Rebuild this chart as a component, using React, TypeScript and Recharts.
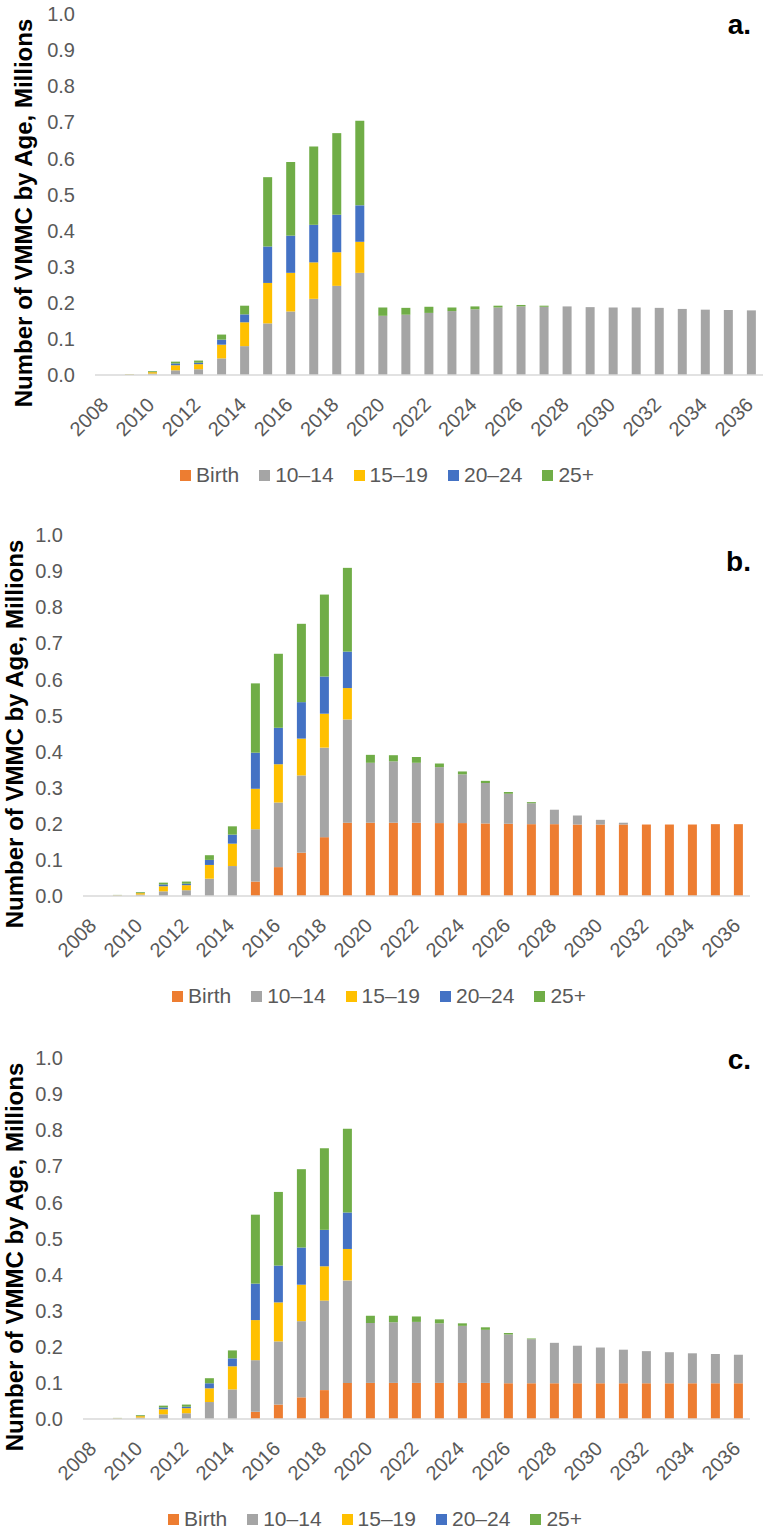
import { Bar, BarChart, Legend, XAxis, YAxis } from "recharts";

const YEARS = [
  "2008", "2009", "2010", "2011", "2012", "2013", "2014", "2015", "2016", "2017",
  "2018", "2019", "2020", "2021", "2022", "2023", "2024", "2025", "2026", "2027",
  "2028", "2029", "2030", "2031", "2032", "2033", "2034", "2035", "2036",
];

const Y_TICKS = [0, 0.1, 0.2, 0.3, 0.4, 0.5, 0.6, 0.7, 0.8, 0.9, 1.0];

// panel a: no birth circumcision
const A_BIRTH = [0, 0, 0, 0, 0, 0, 0, 0, 0, 0, 0, 0, 0, 0, 0, 0, 0, 0, 0, 0, 0, 0, 0, 0, 0, 0, 0, 0, 0];
const A_1014 = [0, 0.001, 0.004, 0.013, 0.016, 0.046, 0.08, 0.143, 0.176, 0.211, 0.247, 0.283, 0.164, 0.167, 0.172, 0.177, 0.182, 0.187, 0.19, 0.189, 0.19, 0.188, 0.187, 0.187, 0.186, 0.183, 0.181, 0.18, 0.179];
const A_1519 = [0, 0.001, 0.004, 0.014, 0.014, 0.038, 0.066, 0.112, 0.107, 0.101, 0.093, 0.086, 0, 0, 0, 0, 0, 0, 0, 0, 0, 0, 0, 0, 0, 0, 0, 0, 0];
const A_2024 = [0, 0, 0.001, 0.005, 0.004, 0.014, 0.022, 0.101, 0.103, 0.104, 0.104, 0.101, 0, 0, 0, 0, 0, 0, 0, 0, 0, 0, 0, 0, 0, 0, 0, 0, 0];
const A_25P = [0, 0.001, 0.002, 0.005, 0.006, 0.014, 0.024, 0.192, 0.204, 0.217, 0.226, 0.234, 0.023, 0.019, 0.017, 0.01, 0.008, 0.005, 0.004, 0.003, 0, 0, 0, 0, 0, 0, 0, 0, 0];

// panel b
const B_BIRTH = [0, 0, 0, 0, 0, 0, 0, 0.04, 0.08, 0.12, 0.163, 0.203, 0.203, 0.203, 0.203, 0.202, 0.202, 0.201, 0.2, 0.199, 0.199, 0.198, 0.198, 0.198, 0.198, 0.198, 0.198, 0.199, 0.199];
const B_1014 = [0, 0.001, 0.004, 0.013, 0.016, 0.048, 0.083, 0.145, 0.179, 0.214, 0.248, 0.286, 0.166, 0.17, 0.166, 0.155, 0.135, 0.112, 0.083, 0.058, 0.04, 0.025, 0.013, 0.005, 0, 0, 0, 0, 0];
const B_1519 = [0, 0.001, 0.004, 0.014, 0.014, 0.038, 0.062, 0.112, 0.106, 0.102, 0.094, 0.087, 0, 0, 0, 0, 0, 0, 0, 0, 0, 0, 0, 0, 0, 0, 0, 0, 0];
const B_2024 = [0, 0, 0.001, 0.005, 0.004, 0.014, 0.025, 0.1, 0.101, 0.101, 0.103, 0.101, 0, 0, 0, 0, 0, 0, 0, 0, 0, 0, 0, 0, 0, 0, 0, 0, 0];
const B_25P = [0, 0.001, 0.002, 0.005, 0.006, 0.013, 0.023, 0.192, 0.205, 0.217, 0.227, 0.232, 0.022, 0.017, 0.016, 0.01, 0.008, 0.006, 0.005, 0.003, 0, 0, 0, 0, 0, 0, 0, 0, 0];

// panel c
const C_BIRTH = [0, 0, 0, 0, 0, 0, 0, 0.02, 0.04, 0.06, 0.08, 0.1, 0.1, 0.1, 0.1, 0.1, 0.1, 0.1, 0.099, 0.099, 0.099, 0.099, 0.099, 0.099, 0.099, 0.099, 0.099, 0.099, 0.099];
const C_1014 = [0, 0.001, 0.004, 0.013, 0.016, 0.047, 0.082, 0.143, 0.175, 0.211, 0.248, 0.284, 0.166, 0.168, 0.169, 0.165, 0.158, 0.147, 0.135, 0.122, 0.112, 0.104, 0.099, 0.093, 0.089, 0.086, 0.083, 0.081, 0.079];
const C_1519 = [0, 0.001, 0.004, 0.014, 0.014, 0.038, 0.064, 0.111, 0.108, 0.101, 0.095, 0.087, 0, 0, 0, 0, 0, 0, 0, 0, 0, 0, 0, 0, 0, 0, 0, 0, 0];
const C_2024 = [0, 0, 0.001, 0.005, 0.004, 0.014, 0.022, 0.101, 0.102, 0.103, 0.101, 0.101, 0, 0, 0, 0, 0, 0, 0, 0, 0, 0, 0, 0, 0, 0, 0, 0, 0];
const C_25P = [0, 0.001, 0.002, 0.005, 0.006, 0.014, 0.022, 0.191, 0.204, 0.217, 0.226, 0.232, 0.02, 0.018, 0.015, 0.011, 0.007, 0.007, 0.004, 0.002, 0, 0, 0, 0, 0, 0, 0, 0, 0];

const SERIES = [
  { key: "birth", name: "Birth", color: "#ED7D31" },
  { key: "a1014", name: "10–14", color: "#A5A5A5" },
  { key: "a1519", name: "15–19", color: "#FFC000" },
  { key: "a2024", name: "20–24", color: "#4472C4" },
  { key: "a25", name: "25+", color: "#70AD47" },
];

const TEXT = "#595959";
const FONT = "'Liberation Sans', Arial, sans-serif";

function makeRows(birth: number[], g: number[], y: number[], b: number[], o: number[]) {
  return YEARS.map((year, i) => ({
    year,
    birth: birth[i],
    a1014: g[i],
    a1519: y[i],
    a2024: b[i],
    a25: o[i],
  }));
}

function YearTick({ x, y, payload }: any) {
  const tx = x + 3;
  const ty = y + 31;
  return (
    <text
      x={tx}
      y={ty}
      transform={`rotate(-45 ${tx} ${ty})`}
      textAnchor="end"
      fill={TEXT}
      fontSize={20}
    >
      {payload.value}
    </text>
  );
}

// keep legend in series order (recharts sorts by name otherwise)
function LegendRow({ payload }: any) {
  const items = [...(payload ?? [])].sort(
    (p: any, q: any) =>
      SERIES.findIndex((s) => s.name === p.value) - SERIES.findIndex((s) => s.name === q.value)
  );
  return (
    <div
      style={{
        display: "flex",
        justifyContent: "center",
        alignItems: "center",
        height: 28,
        fontSize: 21,
        color: TEXT,
        fontFamily: FONT,
      }}
    >
      {items.map((p: any, i: number) => (
        <span
          key={p.value}
          style={{
            display: "flex",
            alignItems: "center",
            marginRight: i < items.length - 1 ? 20 : 0,
          }}
        >
          <span
            style={{
              width: 11,
              height: 11,
              background: p.color,
              marginRight: 5,
              display: "inline-block",
            }}
          />
          {p.value}
        </span>
      ))}
    </div>
  );
}

type PanelProps = {
  rows: ReturnType<typeof makeRows>;
  top: number;
  height: number;
  plotLeft: number;
  plotRight: number;
  titleX: number;
  tag: string;
  tagTop: number;
  legendShift: number;
};

function Panel({ rows, top, height, plotLeft, plotRight, titleX, tag, tagTop, legendShift }: PanelProps) {
  const axisH = 40;
  return (
    <div style={{ position: "absolute", left: 0, top, width: 766, height }}>
      <BarChart
        width={766}
        height={height}
        data={rows}
        margin={{ top: 14, right: 766 - plotRight, left: 0, bottom: height - 375 - axisH }}
        barCategoryGap="30%"
      >
        <XAxis
          dataKey="year"
          height={axisH}
          interval={1}
          tickLine={false}
          tickSize={0}
          tickMargin={0}
          axisLine={{ stroke: "#D9D9D9", strokeWidth: 1.5 }}
          tick={<YearTick />}
        />
        <YAxis
          type="number"
          domain={[0, 1]}
          ticks={Y_TICKS}
          width={plotLeft}
          axisLine={false}
          tickLine={false}
          tickSize={0}
          tickMargin={20}
          tick={{ fill: TEXT, fontSize: 20 }}
          tickFormatter={(v: number) => v.toFixed(1)}
          label={{
            content: () => (
              <text
                x={titleX}
                y={213}
                transform={`rotate(-90 ${titleX} 213)`}
                textAnchor="middle"
                fontSize={24}
                fontWeight="bold"
                fill="#000"
              >
                Number of VMMC by Age, Millions
              </text>
            ),
          }}
        />
        <Legend
          verticalAlign="middle"
          align="center"
          wrapperStyle={{ top: 461, left: legendShift, width: 766 }}
          content={<LegendRow />}
        />
        {SERIES.map((s) => (
          <Bar
            key={s.key}
            dataKey={s.key}
            name={s.name}
            stackId="vmmc"
            fill={s.color}
            isAnimationActive={false}
          />
        ))}
      </BarChart>
      <div
        style={{
          position: "absolute",
          left: 0,
          top: tagTop,
          width: 751,
          textAlign: "right",
          fontSize: 28,
          lineHeight: "28px",
          fontWeight: "bold",
          color: "#000",
          fontFamily: FONT,
        }}
      >
        {tag}
      </div>
    </div>
  );
}

export default function App() {
  return (
    <div
      style={{
        position: "absolute",
        left: 0,
        top: 0,
        width: 766,
        height: 1532,
        overflow: "hidden",
        background: "#fff",
        fontFamily: FONT,
      }}
    >
      <Panel
        rows={makeRows(A_BIRTH, A_1014, A_1519, A_2024, A_25P)}
        top={0}
        height={521}
        plotLeft={95}
        plotRight={763}
        titleX={32}
        tag="a."
        tagTop={11}
        legendShift={4}
      />
      <Panel
        rows={makeRows(B_BIRTH, B_1014, B_1519, B_2024, B_25P)}
        top={521}
        height={521}
        plotLeft={83}
        plotRight={750}
        titleX={23}
        tag="b."
        tagTop={27}
        legendShift={-4}
      />
      <Panel
        rows={makeRows(C_BIRTH, C_1014, C_1519, C_2024, C_25P)}
        top={1044}
        height={488}
        plotLeft={83}
        plotRight={750}
        titleX={23}
        tag="c."
        tagTop={2}
        legendShift={-8}
      />
    </div>
  );
}
